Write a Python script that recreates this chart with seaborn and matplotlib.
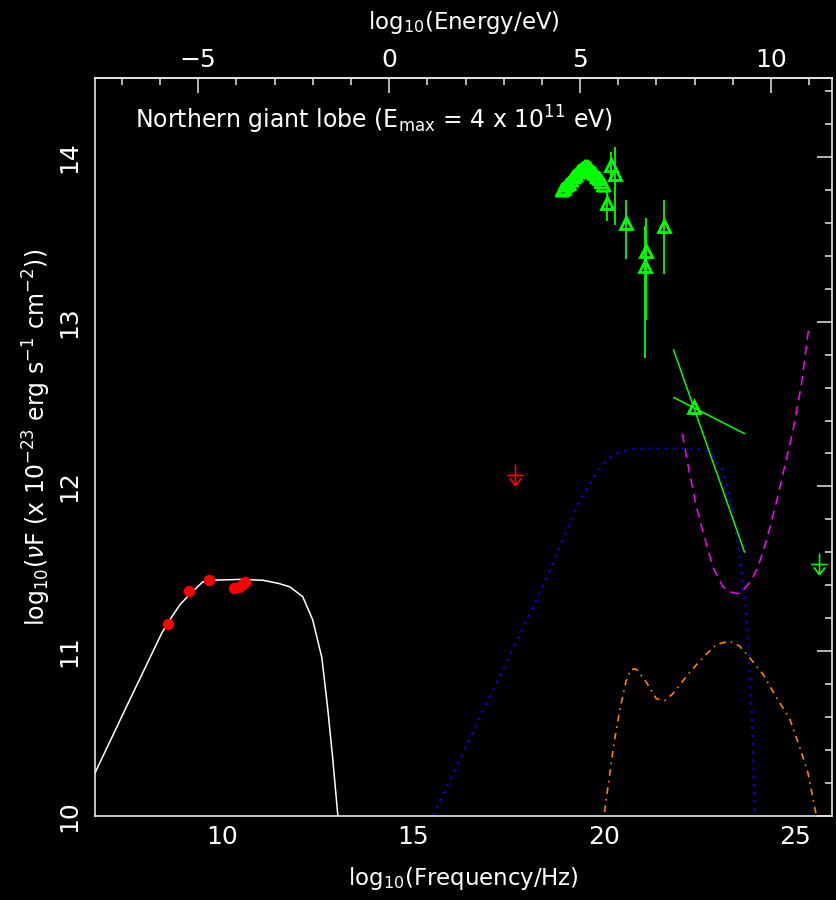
import matplotlib
matplotlib.use('Agg')
import matplotlib.pyplot as plt
from matplotlib.path import Path
from matplotlib.ticker import MultipleLocator, FixedLocator
import seaborn as sns

# ---- values (log10 frequency / log10 nuF) ----
# synchrotron model (white, solid)
sync_x = [6.68, 7.5, 8.43, 8.64, 8.9, 9.14, 9.5, 9.7, 10.5, 11.07, 11.5, 11.78, 12.12, 12.38, 12.62, 12.77, 12.9, 13.04, 13.15]
sync_y = [10.26, 10.66, 11.11, 11.19, 11.28, 11.34, 11.42, 11.43, 11.435, 11.43, 11.41, 11.39, 11.33, 11.19, 10.96, 10.66, 10.36, 10.0, 9.6]

# inverse Compton model (blue, dotted)
ic_x = [15.53, 16.5, 17.5, 18.24, 18.67, 19.29, 19.72, 20.07, 20.42, 20.8, 21.2, 22.0, 22.5, 22.77, 22.91,
        23.12, 23.21, 23.34, 23.43, 23.52, 23.61, 23.66, 23.72, 23.8, 23.87, 23.91, 23.97, 24.0]
ic_y = [10.0, 10.47, 10.955, 11.31, 11.53, 11.875, 12.05, 12.16, 12.21, 12.225, 12.23, 12.23, 12.225, 12.21, 12.16,
        12.10, 12.02, 11.90, 11.77, 11.63, 11.49, 11.35, 11.27, 10.99, 10.66, 10.36, 10.0, 9.8]

# sensitivity curve (magenta, dashed)
sens_x = [22.06, 22.25, 22.43, 22.64, 22.86, 23.12, 23.3, 23.47, 23.56, 23.65, 23.87, 24.04, 24.26, 24.52, 24.74, 24.96, 25.18, 25.37]
sens_y = [12.32, 12.08, 11.875, 11.69, 11.51, 11.39, 11.36, 11.35, 11.35, 11.37, 11.43, 11.51, 11.67, 11.9, 12.12, 12.34, 12.62, 12.96]

# second component (orange, dash-dot)
comp_x = [19.95, 20.01, 20.27, 20.42, 20.59, 20.72, 20.86, 21.12, 21.38, 21.6, 21.81, 22.25, 22.6, 22.95, 23.3,
          23.56, 23.82, 24.17, 24.52, 24.87, 25.13, 25.35, 25.57, 25.62]
comp_y = [9.8, 10.0, 10.44, 10.64, 10.82, 10.89, 10.89, 10.81, 10.71, 10.70, 10.74, 10.87, 10.96, 11.04, 11.06,
          11.03, 10.96, 10.86, 10.72, 10.59, 10.42, 10.26, 10.0, 9.8]

# radio detections (red)
radio_x = [8.59, 9.14, 9.67, 10.31, 10.45, 10.56, 10.60]
radio_y = [11.163, 11.365, 11.43, 11.38, 11.39, 11.406, 11.42]
radio_err = [0.02, 0.01, 0.01, 0.01, 0.01, 0.01, 0.03]

# upper limits
red_lim_x, red_lim_y = [17.67], [12.07]
green_lim_x, green_lim_y = [25.63], [11.53]

# dense green spectrum (arch)
arch_x = [18.92, 18.98, 19.04, 19.10, 19.16, 19.22, 19.28, 19.34, 19.40, 19.46,
          19.52, 19.58, 19.64, 19.70, 19.76, 19.82, 19.88, 19.94, 20.00]
arch_y = [13.80, 13.81, 13.83, 13.84, 13.86, 13.88, 13.89, 13.91, 13.92, 13.93,
          13.94, 13.94, 13.93, 13.91, 13.90, 13.88, 13.87, 13.85, 13.83]

# green points with asymmetric error bars
gx = [20.2, 20.31, 20.09, 20.58, 21.1, 21.07, 21.58]
gy = [13.95, 13.90, 13.72, 13.60, 13.43, 13.34, 13.58]
g_lo = [0.10, 0.31, 0.11, 0.22, 0.42, 0.56, 0.29]
g_hi = [0.08, 0.16, 0.08, 0.14, 0.20, 0.24, 0.16]

# bow-tie (two power-law slopes through one point)
bow_pt_x, bow_pt_y = [22.36], [12.48]
bow_a_x, bow_a_y = [21.83, 23.69], [12.83, 11.60]
bow_b_x, bow_b_y = [21.83, 23.69], [12.54, 12.32]

# top axis ticks (log10 energy / eV)
energy_major = [-5, 0, 5, 10]
energy_minor = list(range(-7, 12))

H_EV = 14.383  # log10 of Hz per eV

sns.set_style('dark', {'axes.facecolor': 'black', 'figure.facecolor': 'black',
                       'axes.edgecolor': 'white', 'text.color': 'white',
                       'xtick.color': 'white', 'ytick.color': 'white',
                       'axes.labelcolor': 'white', 'axes.grid': False})
plt.rcParams['font.family'] = ['DejaVu Sans']
plt.rcParams['mathtext.fontset'] = 'dejavusans'

fig = plt.figure(figsize=(8.37, 9.0), dpi=100)
ax = fig.add_axes([95 / 837, (900 - 815.7) / 900, (832 - 95) / 837, (815.7 - 78) / 900])

# model curves
sns.lineplot(x=sync_x, y=sync_y, ax=ax, color='white', lw=1.1, sort=False, errorbar=None)
sns.lineplot(x=ic_x, y=ic_y, ax=ax, color='#0000ff', lw=1.4, sort=False, errorbar=None,
             linestyle=(0, (1.2, 3.0)))
sns.lineplot(x=sens_x, y=sens_y, ax=ax, color='#ff00ff', lw=1.1, sort=False, errorbar=None,
             linestyle=(0, (6, 4)))
sns.lineplot(x=comp_x, y=comp_y, ax=ax, color='#ff8000', lw=1.2, sort=False, errorbar=None,
             linestyle=(0, (4, 3, 1, 3)))

# radio points
ax.errorbar(radio_x, radio_y, yerr=radio_err, fmt='o', color='red', ms=7.2, elinewidth=1, capsize=0)

# green data
ax.errorbar(gx, gy, yerr=[g_lo, g_hi], fmt='^', color='#00ff00', mfc='none', ms=9, mew=2.0,
            elinewidth=1.3, capsize=0)
sns.scatterplot(x=arch_x, y=arch_y, ax=ax, marker='^', s=80, facecolor='none',
                edgecolor='#00ff00', linewidth=2.0)
sns.lineplot(x=bow_a_x, y=bow_a_y, ax=ax, color='#00ff00', lw=1.1, errorbar=None)
sns.lineplot(x=bow_b_x, y=bow_b_y, ax=ax, color='#00ff00', lw=1.1, errorbar=None)
ax.plot(bow_pt_x, bow_pt_y, '^', mfc='none', mec='#00ff00', ms=9, mew=2.0)

# upper limit symbol: bar + stem + arrow head
lim_path = Path([(0, 11), (0, -10), (-8.3, 0), (8.3, 0), (-5.7, -3), (0, -10), (5.7, -3)],
                [Path.MOVETO, Path.LINETO, Path.MOVETO, Path.LINETO, Path.MOVETO, Path.LINETO, Path.LINETO])
ax.plot(red_lim_x, red_lim_y, ls='none', marker=lim_path, ms=15.8, mfc='none', mec='red', mew=1.2)
ax.plot(green_lim_x, green_lim_y, ls='none', marker=lim_path, ms=15.8, mfc='none', mec='#00ff00', mew=1.2)

ax.set_xlim(6.68, 25.98)
ax.set_ylim(10, 14.48)
ax.xaxis.set_major_locator(MultipleLocator(5))
ax.xaxis.set_minor_locator(MultipleLocator(1))
ax.yaxis.set_major_locator(MultipleLocator(1))
ax.yaxis.set_minor_locator(MultipleLocator(0.2))

for s in ax.spines.values():
    s.set_color('#e6e6e6')
    s.set_linewidth(1.2)

ax.tick_params(which='both', direction='in', top=False, right=True, colors='#e6e6e6', labelcolor='white')
ax.tick_params(which='major', length=10.8, width=1.1)
ax.tick_params(which='minor', length=5.2, width=1.1)
ax.tick_params(axis='x', labelsize=18, pad=7)
ax.tick_params(axis='y', labelsize=18, labelrotation=90, pad=10)
for lab in ax.get_yticklabels():
    lab.set_va('center')

sec = ax.secondary_xaxis('top', functions=(lambda f: f - H_EV, lambda e: e + H_EV))
sec.xaxis.set_major_locator(FixedLocator(energy_major))
sec.xaxis.set_minor_locator(FixedLocator(energy_minor))
sec.tick_params(which='both', direction='in', colors='#e6e6e6', labelcolor='white')
sec.tick_params(which='major', length=10.8, width=1.1, labelsize=18, pad=4)
sec.tick_params(which='minor', length=5.2, width=1.1)
sec.spines['top'].set_color('#e6e6e6')
sec.spines['top'].set_linewidth(1.2)

ax.set_xlabel(r'log$_{10}$(Frequency/Hz)', fontsize=16.5)
ax.xaxis.set_label_coords(0.5, -0.067)
sec.set_xlabel(r'log$_{10}$(Energy/eV)', fontsize=16.5, labelpad=14)
ax.set_ylabel(r'log$_{10}$($\nu$F (x 10$^{-23}$ erg s$^{-1}$ cm$^{-2}$))', fontsize=17)
ax.yaxis.set_label_coords(-0.057, 0.513)

ax.text(0.0543, 0.932, r'Northern giant lobe (E$_{\rm max}$ = 4 x 10$^{11}$ eV)',
        transform=ax.transAxes, fontsize=17, color='white', va='baseline')

fig.savefig('out.png', dpi=100, facecolor='black')
